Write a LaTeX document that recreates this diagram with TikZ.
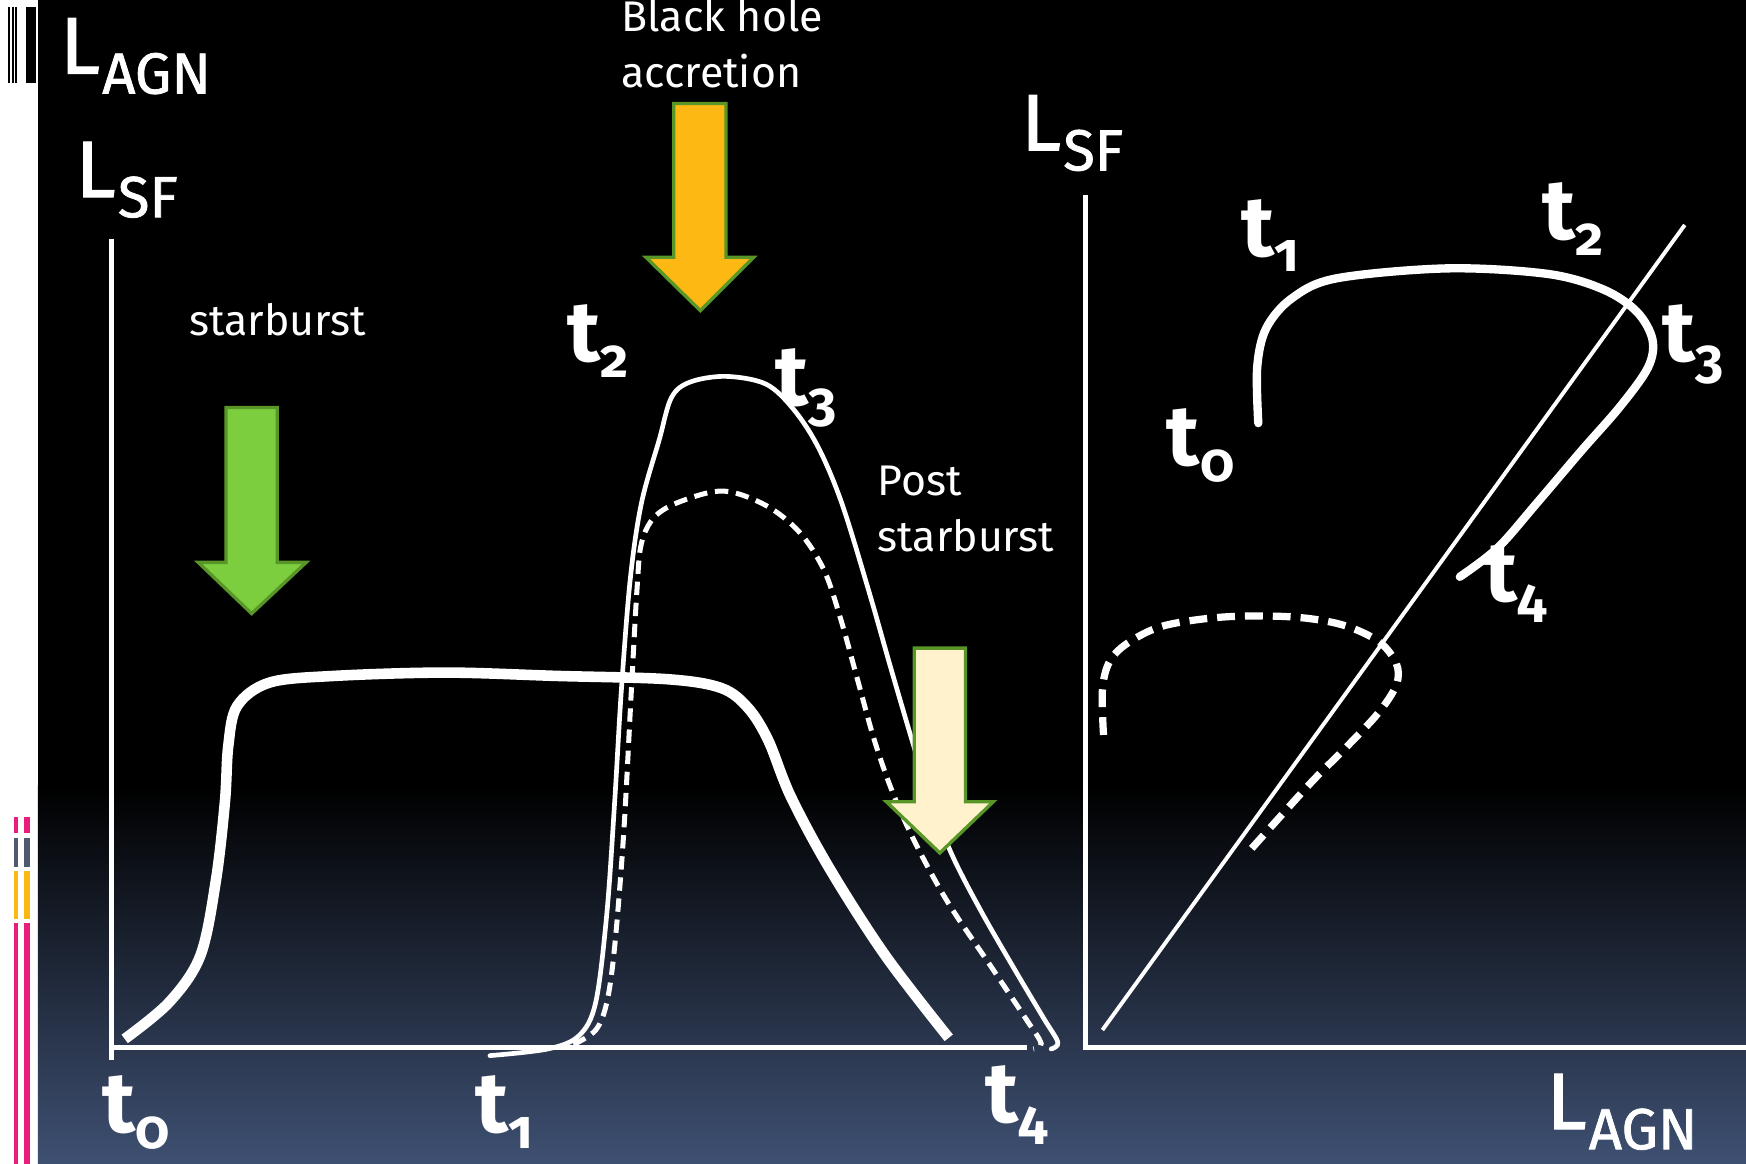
\documentclass[tikz,border=0pt]{standalone}
\usepackage{fontspec}
\setmainfont{Fira Sans}[Numbers=OldStyle]
\newfontfamily\Lfont{Fira Sans}[FakeBold=1.3]
\definecolor{bgblue}{RGB}{62,80,114}
\definecolor{pinkbar}{RGB}{233,30,122}
\definecolor{graybar}{RGB}{80,90,110}
\definecolor{yellowbar}{RGB}{251,183,18}
\definecolor{arrowgreen}{RGB}{125,206,63}
\definecolor{arrowedge}{RGB}{88,150,40}
\definecolor{arroworange}{RGB}{253,184,19}
\definecolor{arrowcream}{RGB}{255,242,204}
\newcommand{\tlab}[1]{\fontsize{77}{77}\selectfont\bfseries t\raisebox{-14pt}{\fontsize{49}{49}\selectfont #1}}
\newcommand{\Llab}[1]{\Lfont\fontsize{72}{72}\selectfont L\kern2pt\raisebox{-18pt}{\fontsize{52}{52}\selectfont #1}}
\tikzset{
  lbl/.style={inner sep=0pt, outer sep=0pt, text=white, anchor=base west},
  word/.style={lbl, font=\fontsize{38.5}{38.5}\selectfont},
  axisline/.style={white, line width=4.5},
  thincurve/.style={white, line width=4.2, line cap=round},
  thickcurve/.style={white, line width=9.5},
  dashcurve/.style={white, line width=4.5, dash pattern=on 12pt off 7pt},
  thickdash/.style={white, line width=6.5, dash pattern=on 16pt off 9pt},
  thickright/.style={white, line width=7.5, line cap=round},
  bigarrow/.style={draw=arrowedge, line width=3, line join=miter},
}
\begin{document}
\begin{tikzpicture}[x=1pt,y=-1pt]
\useasboundingbox (0,0) rectangle (1568,1045);
% background
\fill[white] (0,0) rectangle (34,1045);
\fill[black] (34,0) rectangle (1568,706);
\shade[top color=black, bottom color=bgblue] (34,705) rectangle (1568,1045);
% decorations
\fill[black] (7.2,6.3) rectangle (9,74.5);
\fill[black] (11.2,6.3) rectangle (12.6,74.5);
\fill[black] (13.5,6.3) rectangle (15.7,74.5);
\fill[black] (23.3,6.3) rectangle (32.3,74.5);
\foreach \xa/\xb in {12.6/16.2, 21.6/27}{
  \fill[pinkbar] (\xa,734) rectangle (\xb,748);
  \fill[graybar] (\xa,753) rectangle (\xb,779);
  \fill[yellowbar] (\xa,782) rectangle (\xb,825);
  \fill[pinkbar] (\xa,829) rectangle (\xb,1045);
}
% left axes
\coordinate (lorigin) at (100,941);
\coordinate (ltop) at (100,215);
\coordinate (lbottom) at (100,952);
\coordinate (lright) at (922,941);
\draw[axisline] (ltop) -- (lbottom);
\draw[axisline] (lorigin) -- (lright);
% right axes
\coordinate (rorigin) at (975,941);
\coordinate (rtop) at (975,175);
\coordinate (rright) at (1568,941);
\draw[axisline] (rtop) -- (rorigin) -- (rright);
\coordinate (dstart) at (990,925);
\coordinate (dend) at (1513,202);
\draw[white, line width=3.5] (dstart) -- (dend);
% left thick curve (starburst)
\draw[thickcurve] plot[smooth, tension=0.55] coordinates {
 (112,933) (152,900) (180,858) (194,790) (202,720) (205,670) (213,634) (242,613) (300,607) (400,604) (500,607) (600,610) (648,618) (672,636) (690,665) (710,715) (745,780) (795,858) (852,932)};
% left thin curve (AGN)
\draw[thincurve] plot[smooth, tension=0.55] coordinates {
 (440,948) (492,942) (520,930) (535,900) (545,820) (552,720) (558,620) (566,520) (576,452) (592,395) (603,357) (620,343) (652,338) (688,345) (713,368) (735,402) (756,452) (780,530) (800,600) (820,668) (836,720) (856,770) (882,820) (912,872) (937,914) (950,936) (944,942)};
% left dashed curve
\draw[dashcurve] plot[smooth, tension=0.55] coordinates {
 (515,938) (535,925) (545,900) (552,850) (560,750) (567,620) (572,530) (576,488) (588,464) (612,450) (650,441) (688,454) (718,478) (740,512) (755,556) (770,610) (785,664) (801,710) (821,755) (851,810) (890,868) (922,916) (935,937) (928,942)};
% right thick solid curve
\draw[thickright] plot[smooth, tension=0.55] coordinates {
 (1130,380) (1129,330) (1137,295) (1160,268) (1200,250) (1300,241) (1390,246) (1440,260) (1470,280) (1484,305) (1480,330) (1455,365) (1420,405) (1380,452) (1345,492) (1311,518)};
% right dashed curve
\draw[thickdash] plot[smooth, tension=0.55] coordinates {
 (991,660) (990,620) (996,595) (1012,578) (1045,562) (1100,554) (1160,554) (1205,561) (1238,576) (1254,596) (1254,615) (1238,640) (1210,670) (1180,700) (1150,733) (1124,762)};
% arrows
\draw[bigarrow, fill=arrowgreen] (203,366) -- (249,366) -- (249,505) -- (275,505) -- (226,551) -- (178,505) -- (203,505) -- cycle;
\draw[bigarrow, fill=arroworange] (605,93) -- (652,93) -- (652,231) -- (677,231) -- (629,279) -- (580,231) -- (605,231) -- cycle;
\draw[bigarrow, fill=arrowcream] (821,582) -- (867,582) -- (867,720) -- (892,720) -- (844,766) -- (796,720) -- (821,720) -- cycle;
% words
\node[word] (bh1) at (558,28) {Black hole};
\node[word] (bh2) at (558,79) {accretion};
\node[word] (sb) at (170,301) {starburst};
\node[word] (ps1) at (788,445) {Post};
\node[word] (ps2) at (788,495) {starburst};
% axis labels
\node[lbl] (lagnL) at (54,66) {\Llab{AGN}};
\node[lbl] (lsfL) at (68,177) {\Llab{SF}};
\node[lbl] (lsfR) at (917,135) {\Llab{SF}};
\node[lbl] (lagnR) at (1389,1014) {\Llab{AGN}};
% time labels, left plot
\node[lbl] (lt0) at (92,1017) {\tlab{0}};
\node[lbl] (lt1) at (427,1017) {\tlab{1}};
\node[lbl] (lt4) at (885,1008) {\tlab{4}};
\node[lbl] (lt2) at (510,325) {\tlab{2}};
\node[lbl] (lt3) at (696,364) {\tlab{3}};
% time labels, right plot
\node[lbl] (rt1) at (1115,230) {\tlab{1}};
\node[lbl] (rt2) at (1385,215) {\tlab{2}};
\node[lbl] (rt3) at (1493,325) {\tlab{3}};
\node[lbl] (rt0) at (1048,418) {\tlab{0}};
\node[lbl] (rt4) at (1333,540) {\tlab{4}};
\end{tikzpicture}
\end{document}
